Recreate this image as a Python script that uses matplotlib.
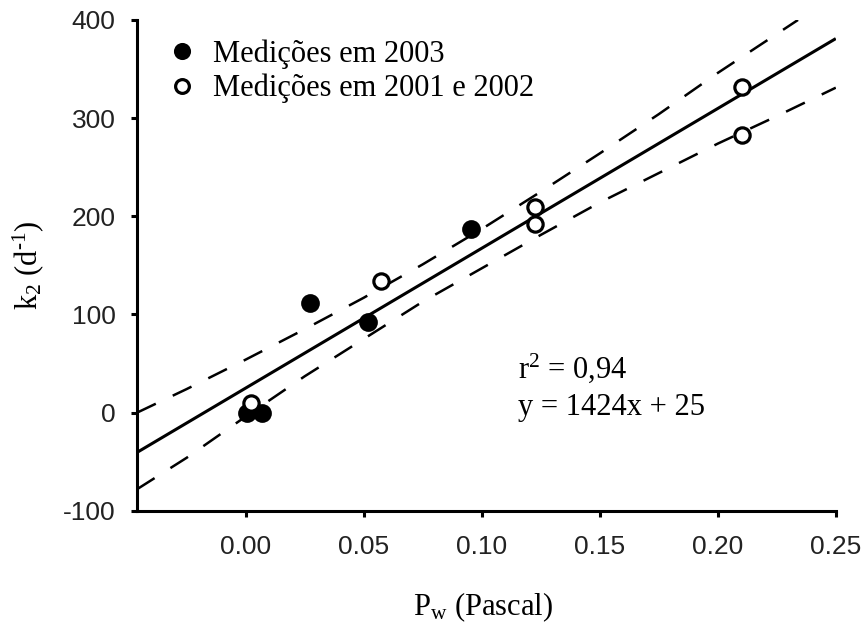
import numpy as np
import matplotlib
matplotlib.use("Agg")
import matplotlib.pyplot as plt

x_2003 = [0.0007, 0.0071, 0.0273, 0.0517, 0.0953]
k_2003 = [0, 0, 112, 92, 187]
x_0102 = [0.0024, 0.0573, 0.1225, 0.1225, 0.2103, 0.2103]
k_0102 = [10, 134, 209, 192, 332, 283]

# fitted line y = 1424x + 25
slope = 1424
intercept = 25
fit_x = np.array([-0.046, 0.25])

# confidence band
band_up_x = [-0.046, -0.025, 0.0, 0.025, 0.05, 0.075, 0.10, 0.125, 0.15, 0.175, 0.20, 0.234]
band_up_y = [0, 24, 54, 85, 117, 151, 187, 225, 264, 304, 346, 400]
band_lo_x = [-0.046, -0.025, 0.0, 0.025, 0.05, 0.075, 0.10, 0.125, 0.15, 0.175, 0.20, 0.225, 0.25]
band_lo_y = [-78, -46, -4, 37, 75, 113, 147, 181, 214, 244, 274, 302, 331]

xticks = [0.00, 0.05, 0.10, 0.15, 0.20, 0.25]
xticklabels = ["0.00", "0.05", "0.10", "0.15", "0.20", "0.25"]
yticks = [-100, 0, 100, 200, 300, 400]

plt.rcParams['font.family'] = ['Liberation Serif', 'DejaVu Serif']
plt.rcParams['mathtext.fontset'] = 'custom'
plt.rcParams['mathtext.rm'] = 'Liberation Serif'
plt.rcParams['mathtext.it'] = 'Liberation Serif:italic'
plt.rcParams['lines.scale_dashes'] = False
plt.rcParams['axes.unicode_minus'] = False

fig = plt.figure(figsize=(8.67, 6.23), dpi=100)
ax = fig.add_axes([0.158, 0.180, 0.806, 0.788])

ax.plot(fit_x, slope * fit_x + intercept, color='black', lw=2.2, solid_capstyle='butt', zorder=2)
ax.plot(band_up_x, band_up_y, color='black', lw=1.8, dashes=[15, 13.5], zorder=2)
ax.plot(band_lo_x, band_lo_y, color='black', lw=1.8, dashes=[15, 13.5], zorder=2)

h1, = ax.plot(x_2003, k_2003, 'o', ms=12, mfc='black', mec='black', mew=1.5,
              label='Medições em 2003', zorder=3)
h2, = ax.plot(x_0102, k_0102, 'o', ms=11, mfc='white', mec='black', mew=2.3,
              label='Medições em 2001 e 2002', zorder=4)

ax.set_xlim(-0.046, 0.25)
ax.set_ylim(-100, 400)
ax.set_xticks(xticks)
ax.set_xticklabels(xticklabels)
ax.set_yticks(yticks)

for s in ['top', 'right']:
    ax.spines[s].set_visible(False)
for s in ['left', 'bottom']:
    ax.spines[s].set_linewidth(2.2)

ax.tick_params(axis='both', direction='out', length=4.5, width=2.2, labelsize=19,
               labelcolor='#222222')
ax.tick_params(axis='x', pad=13)
ax.tick_params(axis='y', pad=11)
for lab in ax.get_xticklabels() + ax.get_yticklabels():
    lab.set_family('Liberation Sans')

ax.set_xlabel(r'P$_{\rm w}$ (Pascal)', fontsize=22, va='top')
ax.xaxis.set_label_coords(0.495, -0.163)
ax.set_ylabel('k$_2$ (d$^{\\mathrm{\u2010}1}$)', fontsize=22)
ax.yaxis.set_label_coords(-0.13, 0.5)

ax.text(0.545, 0.271, r'r$^2$ = 0,94', transform=ax.transAxes, fontsize=22, va='baseline')
ax.text(0.545, 0.1955, 'y = 1424x + 25', transform=ax.transAxes, fontsize=22, va='baseline')

ax.legend(handles=[h1, h2], loc='upper left', bbox_to_anchor=(0.043, 0.961),
          frameon=False, fontsize=22, borderpad=0, borderaxespad=0,
          handlelength=1.0, handletextpad=0.5, labelspacing=0.17, markerscale=0.9)

fig.savefig('out.png', dpi=100)
